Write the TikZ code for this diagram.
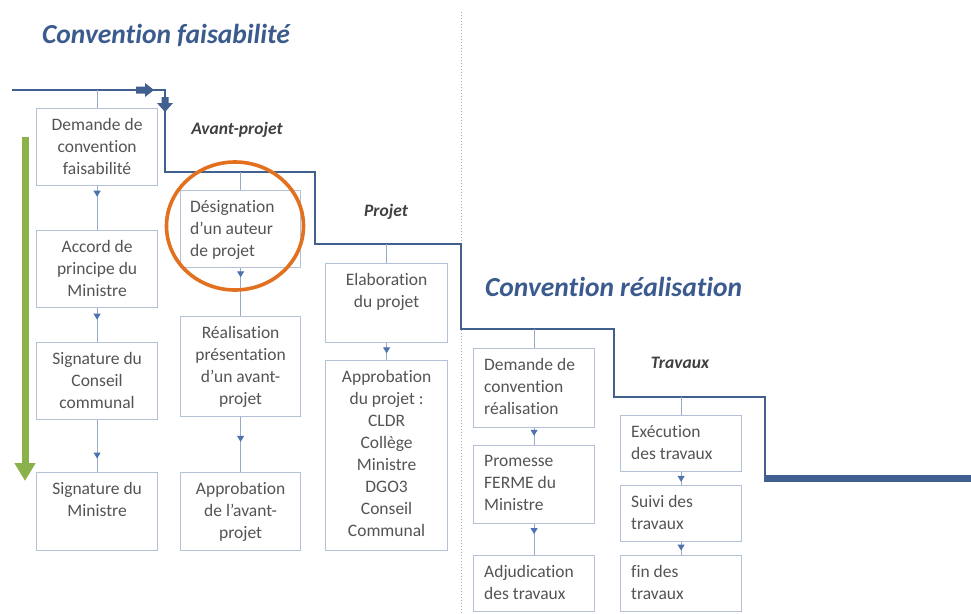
\documentclass[tikz,border=0pt]{standalone}
\usepackage{fontspec}
\setmainfont[Ligatures=NoCommon]{Carlito}
\usetikzlibrary{arrows.meta,decorations.markings,shapes.geometric}
\definecolor{mainblue}{HTML}{41608F}
\definecolor{titleblue}{HTML}{3B5B8E}
\definecolor{boxborder}{HTML}{B4C0D6}
\definecolor{connc}{HTML}{9AAAC6}
\definecolor{arrowblue}{HTML}{4C72B0}
\definecolor{textgray}{HTML}{545454}
\definecolor{labelgray}{HTML}{404040}
\definecolor{greenc}{HTML}{8AB14A}
\definecolor{orangec}{HTML}{E2701F}
\definecolor{dotc}{HTML}{A8B0C0}
\tikzset{
  box/.style={draw=boxborder, line width=1.2pt, fill=white, rectangle, inner sep=0pt, anchor=north west},
  txtc/.style={text=textgray, font={\fontsize{17.5}{22}\selectfont}, align=center, inner sep=0pt, anchor=north},
  txtl/.style={text=textgray, font={\fontsize{17.5}{22}\selectfont}, align=left, inner sep=0pt, anchor=north west},
  conn/.style={draw=connc, line width=1pt},
  arrowat/.style={postaction={decorate}, decoration={markings, mark=at position #1 with {\arrow{Triangle[width=7pt,length=6pt,color=arrowblue]}}}},
  mainline/.style={draw=mainblue, line width=2.6pt, line join=miter},
  title/.style={text=titleblue, font={\fontsize{27.5}{32}\selectfont\bfseries\itshape}, inner sep=0pt, anchor=west},
  phase/.style={text=labelgray, font={\fontsize{17.5}{20}\selectfont\bfseries\itshape}, inner sep=0pt},
}
\begin{document}
\begin{tikzpicture}[x=1pt,y=-1pt]
\path[fill=white] (0,0) rectangle (971,613);
\useasboundingbox (0,0) rectangle (971,613);

% dotted separator
\draw[dotc, line width=1pt, dotted] (461,12) -- (461,613);

% titles
\node[title] (t1) at (42,35) {Convention faisabilité};
\node[title] (t2) at (485,287) {Convention réalisation};

% phase labels
\node[phase] (l1) at (237,130) {Avant-projet};
\node[phase] (l2) at (386,212) {Projet};
\node[phase] (l3) at (680,363) {Travaux};

% main stepped line
\coordinate (m0) at (12,90);
\coordinate (m1) at (165,90);
\coordinate (m2) at (165,172);
\coordinate (m3) at (315,172);
\coordinate (m4) at (315,244);
\coordinate (m5) at (461,244);
\coordinate (m6) at (461,329);
\coordinate (m7) at (614,329);
\coordinate (m8) at (614,397);
\coordinate (m9) at (765,397);
\coordinate (m10) at (765,478);
\coordinate (m11) at (971,478);
\draw[mainline] (m0) -- (m1) -- (m2) -- (m3) -- (m4) -- (m5) -- (m6) -- (m7) -- (m8) -- (m9) -- (m10);
\draw[draw=mainblue, line width=7pt] ([xshift=-1.3pt]m10) -- (m11);

% markers on the top line
\fill[mainblue] (136,86.5) -- (145,86.5) -- (145,83) -- (154,90) -- (145,97) -- (145,93.5) -- (136,93.5) -- cycle;
\fill[mainblue] (161.5,97) -- (168.5,97) -- (168.5,103) -- (173,103) -- (165,112) -- (157,103) -- (161.5,103) -- cycle;

% green arrow
\coordinate (g0) at (25,137);
\coordinate (g1) at (25,481);
\draw[greenc, line width=7pt, -{Triangle[width=20pt,length=18pt]}] (g0) -- (g1);

% column 1
\node[box, minimum width=121pt, minimum height=77pt] (b1) at (36,108) {};
\node[box, minimum width=121pt, minimum height=77pt] (b2) at (36,230) {};
\node[box, minimum width=121pt, minimum height=77pt] (b3) at (36,342) {};
\node[box, minimum width=121pt, minimum height=78pt] (b4) at (36,472) {};
\node[txtc] (b1t) at ([yshift=-10pt]b1.north) {Demande de\\convention\\faisabilité};
\node[txtc] (b2t) at ([yshift=-10pt]b2.north) {Accord de\\principe du\\Ministre};
\node[txtc] (b3t) at ([yshift=-10pt]b3.north) {Signature du\\Conseil\\communal};
\node[txtc] (b4t) at ([yshift=-10pt]b4.north) {Signature du\\Ministre};

% column 2
\node[box, minimum width=120pt, minimum height=77pt] (c1) at (180,190) {};
\node[box, minimum width=120pt, minimum height=100pt] (c2) at (180,316) {};
\node[box, minimum width=120pt, minimum height=78pt] (c3) at (180,472) {};
\node[txtl] (c1t) at ([xshift=10pt,yshift=-10pt]c1.north west) {Désignation\\d’un auteur\\de projet};
\node[txtc] (c2t) at ([yshift=-10pt]c2.north) {Réalisation\\présentation\\d’un avant-\\projet};
\node[txtc] (c3t) at ([yshift=-10pt]c3.north) {Approbation\\de l’avant-\\projet};

% column 3
\node[box, minimum width=122pt, minimum height=79pt] (d1) at (325,263) {};
\node[box, minimum width=122pt, minimum height=190pt] (d2) at (325,360) {};
\node[txtc] (d1t) at ([yshift=-10pt]d1.north) {Elaboration\\du projet};
\node[txtc] (d2t) at ([yshift=-10pt]d2.north) {Approbation\\du projet :\\CLDR\\Collège\\Ministre\\DGO3\\Conseil\\Communal};

% column 4
\node[box, minimum width=121pt, minimum height=79pt] (e1) at (473,348) {};
\node[box, minimum width=121pt, minimum height=78pt] (e2) at (473,445) {};
\node[box, minimum width=121pt, minimum height=56pt] (e3) at (473,555) {};
\node[txtl] (e1t) at ([xshift=11pt,yshift=-10pt]e1.north west) {Demande de\\convention\\réalisation};
\node[txtl] (e2t) at ([xshift=11pt,yshift=-10pt]e2.north west) {Promesse\\FERME du\\Ministre};
\node[txtl] (e3t) at ([xshift=11pt,yshift=-10pt]e3.north west) {Adjudication\\des travaux};

% column 5
\node[box, minimum width=121pt, minimum height=56pt] (f1) at (620,415) {};
\node[box, minimum width=121pt, minimum height=56pt] (f2) at (620,485) {};
\node[box, minimum width=121pt, minimum height=56pt] (f3) at (620,555) {};
\node[txtl] (f1t) at ([xshift=11pt,yshift=-10pt]f1.north west) {Exécution\\des travaux};
\node[txtl] (f2t) at ([xshift=11pt,yshift=-10pt]f2.north west) {Suivi des\\travaux};
\node[txtl] (f3t) at ([xshift=11pt,yshift=-10pt]f3.north west) {fin des\\travaux};

% connectors from main line
\draw[conn] (b1.north |- m0) -- (b1.north);
\draw[conn] (c1.north |- m2) -- (c1.north);
\draw[conn] (d1.north |- m4) -- (d1.north);
\draw[conn] (e1.north |- m6) -- (e1.north);
\draw[conn] (f1.north |- m8) -- (f1.north);

% connectors between boxes
\draw[conn, arrowat=0.24] (b1.south) -- (b2.north);
\draw[conn, arrowat=0.34] (b2.south) -- (b3.north);
\draw[conn, arrowat=0.74] (b3.south) -- (b4.north);
\draw[conn, arrowat=0.19] (c1.south) -- (c2.north);
\draw[conn, arrowat=0.45] (c2.south) -- (c3.north);
\draw[conn, arrowat=0.6] (d1.south) -- (d2.north);
\draw[conn, arrowat=0.45] (e1.south) -- (e2.north);
\draw[conn, arrowat=0.32] (e2.south) -- (e3.north);
\draw[conn, arrowat=0.75] (f1.south) -- (f2.north);
\draw[conn, arrowat=0.65] (f2.south) -- (f3.north);

% orange circle
\node[draw=orangec, line width=3.6pt, ellipse, minimum width=137pt, minimum height=128pt, inner sep=0pt] (oc) at (235,226) {};
\end{tikzpicture}
\end{document}
